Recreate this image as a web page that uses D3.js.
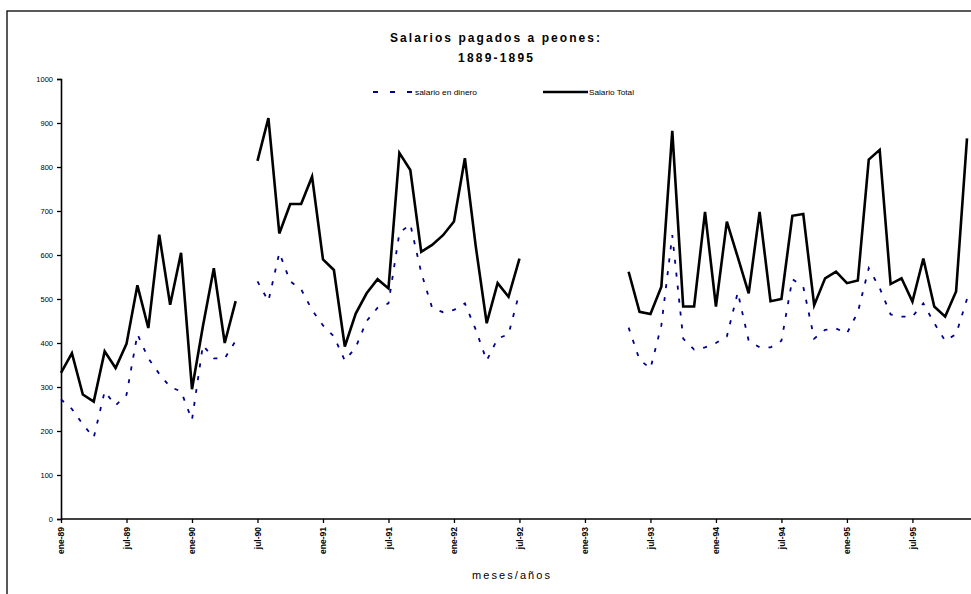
<!DOCTYPE html>
<html>
<head>
<meta charset="utf-8">
<script src="https://cdn.jsdelivr.net/npm/d3@7"></script>
<style>
  html, body { margin: 0; padding: 0; background: #fff; }
  svg { display: block; }
  text { font-family: "Liberation Sans", Arial, sans-serif; }
</style>
</head>
<body>
<svg id="chart" width="971" height="594"></svg>
<script>
// ---- data ----
const years = ["89", "90", "91", "92", "93", "94", "95"];
const months = ["ene", "feb", "mar", "abr", "may", "jun", "jul", "ago", "sep", "oct", "nov", "dic"];
const categories = years.flatMap(y => months.map(m => m + "-" + y));
const tickLabels = ["ene-89", "jul-89", "ene-90", "jul-90", "ene-91", "jul-91", "ene-92",
                    "jul-92", "ene-93", "jul-93", "ene-94", "jul-94", "ene-95", "jul-95"];
const yTicks = [0, 100, 200, 300, 400, 500, 600, 700, 800, 900, 1000];

const salarioTotal = [
  332, 377, 283, 267, 381, 343, 398, 531, 434, 646, 487, 605,
  295, 438, 570, 400, 495, null,
  814, 911, 649, 716, 716, 778, 590, 566, 392, 467, 513, 545,
  524, 832, 793, 607, 623, 645, 676, 820, 619, 445, 536, 505, 592,
  null, null, null, null, null, null, null, null, null,
  562, 471, 466, 528, 882, 483, 483, 698, 483, 676, 595, 513,
  698, 495, 500, 689, 693, 486, 547, 562, 536, 542, 817, 839,
  534, 547, 494, 592, 483, 460, 517, 865
];
const salarioDinero = [
  272, 250, 215, 185, 290, 258, 282, 420, 365, 330, 300, 290,
  225, 395, 365, 365, 405, null,
  540, 495, 605, 540, 522, 475, 440, 415, 360, 390, 450, 480,
  490, 650, 670, 560, 480, 470, 475, 490, 430, 360, 410, 420, 515,
  null, null, null, null, null, null, null, null, null,
  435, 362, 342, 440, 645, 410, 385, 390, 400, 415, 515, 405,
  390, 390, 405, 545, 528, 410, 430, 433, 422, 470, 570, 525,
  465, 460, 460, 490, 445, 405, 420, 500
];

// ---- chart ----
const svg = d3.select("#chart");

// outer border
svg.append("rect")
  .attr("x", 7).attr("y", 11)
  .attr("width", 1000).attr("height", 700)
  .attr("fill", "none").attr("stroke", "#000").attr("stroke-width", 1.3);

const x = d3.scalePoint().domain(categories).range([61, 967]);
const y = d3.scaleLinear().domain([0, 1000]).range([519, 79]);

// y axis
const gy = svg.append("g").attr("transform", "translate(61,0)")
  .call(d3.axisLeft(y).tickValues(yTicks).tickSize(4).tickPadding(4).tickFormat(d3.format("d")));
gy.select(".domain").attr("stroke", "#000").attr("stroke-width", 1.6);
gy.selectAll(".tick line").attr("stroke", "#000").attr("stroke-width", 1.3);
gy.selectAll(".tick text").attr("font-size", 7.5).attr("fill", "#000")
  .attr("font-family", "Liberation Sans, Arial, sans-serif");

// x axis
const gx = svg.append("g").attr("transform", "translate(0,519)")
  .call(d3.axisBottom(x).tickValues(tickLabels).tickSize(4).tickSizeOuter(0).tickFormat(d => d));
gx.select(".domain").attr("d", "M61,0H971").attr("stroke", "#000").attr("stroke-width", 1.6);
gx.selectAll(".tick line").attr("stroke", "#000").attr("stroke-width", 1.3);
gx.selectAll(".tick text")
  .attr("font-size", 8.5).attr("font-weight", "bold").attr("fill", "#000")
  .attr("font-family", "Liberation Sans, Arial, sans-serif")
  .attr("text-anchor", "end")
  .attr("x", 0).attr("y", 0)
  .attr("dy", "0.35em")
  .attr("transform", "translate(0,8) rotate(-90)");

// lines
const line = d3.line()
  .defined(d => d.v != null)
  .x(d => x(d.c))
  .y(d => y(d.v));

const toPts = arr => arr.map((v, i) => ({ c: categories[i], v }));

svg.append("path")
  .datum(toPts(salarioDinero))
  .attr("d", line)
  .attr("fill", "none")
  .attr("stroke", "#00008B")
  .attr("stroke-width", 1.8)
  .attr("stroke-dasharray", "4,9");

svg.append("path")
  .datum(toPts(salarioTotal))
  .attr("d", line)
  .attr("fill", "none")
  .attr("stroke", "#000")
  .attr("stroke-width", 2.6)
  .attr("stroke-linejoin", "miter");

// legend
const lg = svg.append("g");
lg.append("line").attr("x1", 373).attr("x2", 412).attr("y1", 92).attr("y2", 92)
  .attr("stroke", "#00008B").attr("stroke-width", 1.8).attr("stroke-dasharray", "5,12");
lg.append("text").attr("x", 415).attr("y", 94.5).attr("font-size", 6.5)
  .attr("textLength", 62).attr("lengthAdjust", "spacingAndGlyphs")
  .text("salario en dinero");
lg.append("line").attr("x1", 543).attr("x2", 588).attr("y1", 92).attr("y2", 92)
  .attr("stroke", "#000").attr("stroke-width", 2.6);
lg.append("text").attr("x", 589).attr("y", 94.5).attr("font-size", 6.5)
  .attr("textLength", 45).attr("lengthAdjust", "spacingAndGlyphs")
  .text("Salario Total");

// title
svg.append("text").attr("x", 390).attr("y", 41.5)
  .attr("font-size", 12).attr("font-weight", "bold")
  .attr("textLength", 210).attr("lengthAdjust", "spacing")
  .text("Salarios pagados a peones:");
svg.append("text").attr("x", 458).attr("y", 61.5)
  .attr("font-size", 12).attr("font-weight", "bold")
  .attr("textLength", 75).attr("lengthAdjust", "spacing")
  .text("1889-1895");

// x axis title
svg.append("text").attr("x", 472).attr("y", 579)
  .attr("font-size", 11)
  .attr("textLength", 78).attr("lengthAdjust", "spacing")
  .text("meses/años");
</script>
</body>
</html>
